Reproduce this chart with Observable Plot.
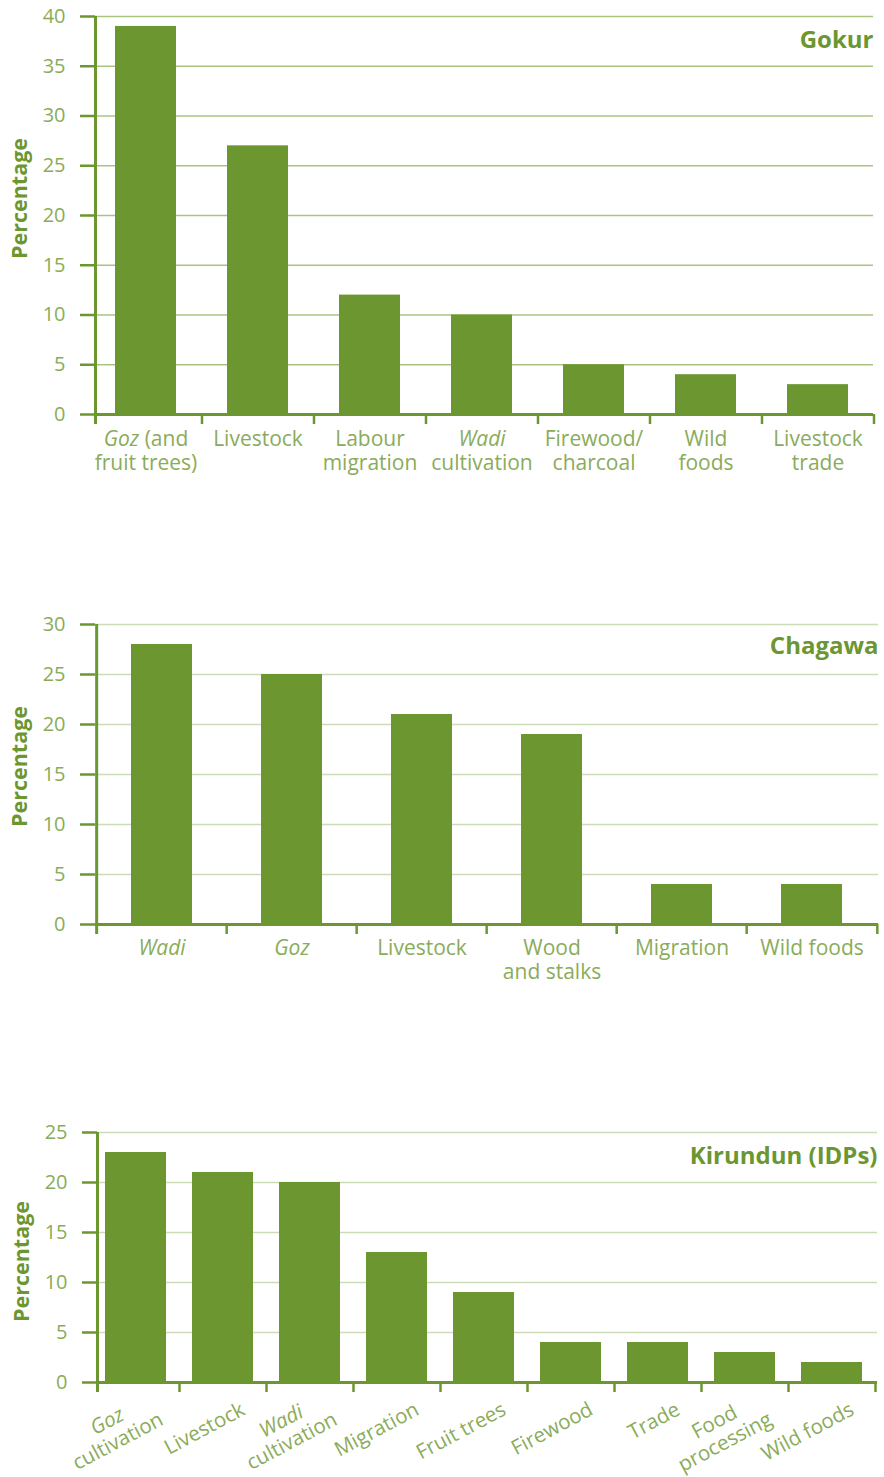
<!DOCTYPE html>
<html><head><meta charset="utf-8">
<script src="https://cdn.jsdelivr.net/npm/d3@7"></script>
<script src="https://cdn.jsdelivr.net/npm/@observablehq/plot@0.6"></script>
<style>
body{margin:0;background:#fff;}
#root{position:relative;width:884px;height:1477px;overflow:hidden;}
</style></head><body><div id="root"></div>
<script>
// ---- data ----
const gokurTitle = "Gokur";
const gokurLabels = ["Goz (and\nfruit trees)", "Livestock", "Labour\nmigration", "Wadi\ncultivation", "Firewood/\ncharcoal", "Wild\nfoods", "Livestock\ntrade"];
const gokurValues = [39, 27, 12, 10, 5, 4, 3];
const gokurTicks = [0, 5, 10, 15, 20, 25, 30, 35, 40];

const chagawaTitle = "Chagawa";
const chagawaLabels = ["Wadi", "Goz", "Livestock", "Wood\nand stalks", "Migration", "Wild foods"];
const chagawaValues = [28, 25, 21, 19, 4, 4];
const chagawaTicks = [0, 5, 10, 15, 20, 25, 30];

const kirundunTitle = "Kirundun (IDPs)";
const kirundunLabels = ["Goz\ncultivation", "Livestock", "Wadi\ncultivation", "Migration", "Fruit trees", "Firewood", "Trade", "Food\nprocessing", "Wild foods"];
const kirundunValues = [23, 21, 20, 13, 9, 4, 4, 3, 2];
const kirundunTicks = [0, 5, 10, 15, 20, 25];

const yLabel = "Percentage";
const italicWords = ["Goz", "Wadi"];

// ---- style ----
const W = 884;
const BAR = "#6b9630";
const AXIS = "#6b9630";
const TICK_TEXT = "#8aac5a";
const svgNS = "http://www.w3.org/2000/svg";
const root = document.getElementById("root");

function italicize(svg) {
  const re = new RegExp("^(" + italicWords.join("|") + ")(.*)$");
  for (const t of svg.querySelectorAll('g[aria-description^="xlab"] text')) {
    const tsp = [...t.children].filter(c => c.tagName === "tspan");
    const lines = tsp.length ? tsp : [t];
    for (const line of lines) {
      const s = line.textContent;
      const m = s.match(re);
      if (!m) continue;
      line.textContent = "";
      const it = document.createElementNS(svgNS, "tspan");
      it.setAttribute("font-style", "italic");
      it.textContent = m[1];
      line.appendChild(it);
      if (m[2]) line.appendChild(document.createTextNode(m[2]));
    }
  }
}

function centerRotated(svg) {
  for (const t of svg.querySelectorAll('g[aria-description="xlab-rot"] text')) {
    const lines = [...t.children].filter(c => c.tagName === "tspan");
    if (lines.length < 2) continue;
    const ws = lines.map(l => l.getComputedTextLength());
    const mx = Math.max(...ws);
    lines.forEach((l, i) => l.setAttribute("x", -(mx - ws[i]) / 2));
  }
}

function drawChart(cfg) {
  const {labels, values, ticks, title, top, height, mt, mb, ml, mr, xr, pad, grid,
         rotate, titleDy, yLabelDy, labelDx, labelDy, labelSize} = cfg;
  const rows = labels.map((l, i) => ({cat: l, value: values[i]}));
  const n = labels.length;
  const step = (xr[1] - xr[0]) / n;
  const yMax = ticks[ticks.length - 1];
  const last = labels[n - 1];
  const axisDx = ml - (xr[0] + step / 2);
  const labelMark = rotate
    ? Plot.text(labels, {x: d => d, text: d => d, frameAnchor: "bottom", rotate, textAnchor: "end",
        lineAnchor: "middle", dx: labelDx, dy: labelDy, fontSize: labelSize, fill: TICK_TEXT, lineHeight: 1.1,
        ariaDescription: "xlab-rot"})
    : Plot.text(labels, {x: d => d, text: d => d, frameAnchor: "bottom", lineAnchor: "top",
        dy: labelDy, fontSize: labelSize, fill: TICK_TEXT, lineHeight: 1.15, ariaDescription: "xlab"});
  const svg = Plot.plot({
    width: W, height,
    marginTop: mt, marginBottom: mb, marginLeft: ml, marginRight: mr,
    style: {fontFamily: "'Open Sans', sans-serif", fontSize: "20px", background: "white", overflow: "visible"},
    x: {type: "band", domain: labels, range: xr, paddingInner: pad, paddingOuter: pad / 2, axis: null},
    y: {domain: [0, yMax], axis: null},
    marks: [
      Plot.ruleY(ticks.slice(1), {stroke: grid, strokeWidth: 1.6}),
      Plot.barY(rows, {x: "cat", y: "value", fill: BAR}),
      Plot.ruleY([0], {stroke: AXIS, strokeWidth: 3}),
      // left axis line, extending just below the baseline
      Plot.ruleX([labels[0]], {x: d => d, dx: axisDx, y1: yMax, y2: 0, insetBottom: -10, stroke: AXIS, strokeWidth: 3}),
      // category boundary ticks
      Plot.ruleX(labels.slice(1), {x: d => d, dx: -step / 2, y1: 0, y2: 0, insetBottom: -10, stroke: AXIS, strokeWidth: 2.5}),
      Plot.ruleX([last], {x: d => d, dx: step / 2, y1: 0, y2: 0, insetBottom: -10, stroke: AXIS, strokeWidth: 2.5}),
      Plot.axisY(ticks, {tickSize: 15, tickPadding: 15, stroke: AXIS, strokeWidth: 2.5, fill: TICK_TEXT, fontSize: 20, label: null}),
      Plot.text([yLabel], {text: d => d, frameAnchor: "left", textAnchor: "middle", lineAnchor: "middle",
        dx: -75, dy: yLabelDy, rotate: -90, fontWeight: 700, fontSize: 21.5, fill: AXIS}),
      Plot.text([title], {text: d => d, frameAnchor: "top-right", dy: titleDy, textAnchor: "end", lineAnchor: "middle",
        fontWeight: 700, fontSize: 24, fill: AXIS}),
      labelMark
    ]
  });
  svg.style.position = "absolute";
  svg.style.left = "0px";
  svg.style.top = top + "px";
  root.appendChild(svg);
  italicize(svg);
  if (rotate) centerRotated(svg);
}

drawChart({labels: gokurLabels, values: gokurValues, ticks: gokurTicks, title: gokurTitle,
  top: 0, height: 480, mt: 16, mb: 66, ml: 95, mr: 11, xr: [89.5, 873.5], pad: 0.455, grid: "#a9c47f",
  titleDy: 24, yLabelDy: -17, labelDy: 14, labelSize: 21});
drawChart({labels: chagawaLabels, values: chagawaValues, ticks: chagawaTicks, title: chagawaTitle,
  top: 560, height: 440, mt: 64, mb: 76, ml: 95, mr: 6, xr: [95, 879], pad: 0.53, grid: "#cddcb8",
  titleDy: 22, yLabelDy: -8, labelDy: 13, labelSize: 21});
drawChart({labels: kirundunLabels, values: kirundunValues, ticks: kirundunTicks, title: kirundunTitle,
  top: 1080, height: 397, mt: 52, mb: 95, ml: 97, mr: 7, xr: [92, 875], pad: 0.3, grid: "#cddcb8",
  titleDy: 24, yLabelDy: 4, rotate: -28, labelDx: 20, labelDy: 25, labelSize: 20.5});
</script></body></html>
